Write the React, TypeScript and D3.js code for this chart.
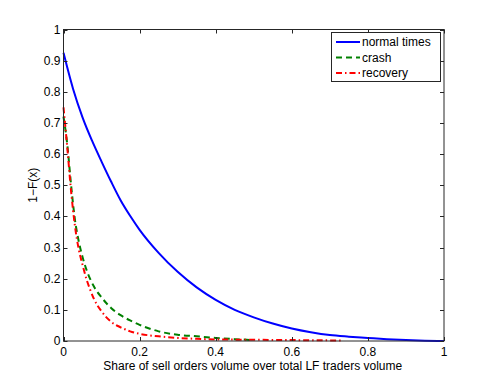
import React, { useEffect, useRef } from 'react';
import * as d3 from 'd3';

// values
const normalX = [0, 0.025, 0.05, 0.075, 0.1, 0.125, 0.15, 0.175, 0.2, 0.25, 0.3, 0.35, 0.4, 0.45, 0.5, 0.55, 0.6, 0.65, 0.7, 0.75, 0.8, 0.85, 0.9, 0.95, 1];
const normalY = [0.925, 0.81, 0.718, 0.643, 0.576, 0.512, 0.452, 0.402, 0.357, 0.283, 0.222, 0.172, 0.132, 0.1, 0.076, 0.056, 0.04, 0.028, 0.019, 0.014, 0.01, 0.006, 0.003, 0.001, 0];

const crashX = [0, 0.01, 0.02, 0.03, 0.04, 0.05, 0.06, 0.08, 0.1, 0.125, 0.15, 0.175, 0.2, 0.25, 0.3, 0.35, 0.4, 0.45, 0.5];
const crashY = [0.72, 0.63, 0.5, 0.39, 0.32, 0.27, 0.23, 0.175, 0.14, 0.106, 0.083, 0.066, 0.052, 0.031, 0.02, 0.015, 0.01, 0.006, 0.003];

const recoveryX = [0, 0.01, 0.02, 0.03, 0.04, 0.05, 0.06, 0.07, 0.08, 0.1, 0.125, 0.15, 0.175, 0.2, 0.25, 0.3, 0.35, 0.4, 0.5, 0.6, 0.7, 0.73];
const recoveryY = [0.75, 0.62, 0.48, 0.37, 0.295, 0.245, 0.2, 0.165, 0.135, 0.095, 0.062, 0.044, 0.031, 0.023, 0.015, 0.01, 0.007, 0.005, 0.004, 0.003, 0.002, 0.002];

const xTicks = [0, 0.2, 0.4, 0.6, 0.8, 1];
const yTicks = [0, 0.1, 0.2, 0.3, 0.4, 0.5, 0.6, 0.7, 0.8, 0.9, 1];

const series = [
  { name: 'normal times', xs: normalX, ys: normalY, color: '#0000ff', dash: null },
  { name: 'crash', xs: crashX, ys: crashY, color: '#008000', dash: '6,4' },
  { name: 'recovery', xs: recoveryX, ys: recoveryY, color: '#ff0000', dash: '6,3,1.5,3' },
];

const W = 491;
const H = 384;
const margin = { top: 29.5, right: 47, bottom: 43, left: 63.5 };
const FONT = '"Liberation Sans", Arial, Helvetica, sans-serif';

const App = () => {
  const svgRef = useRef(null);

  useEffect(() => {
    const svg = d3.select(svgRef.current);
    svg.selectAll('*').remove();

    const x = d3.scaleLinear().domain([0, 1]).range([margin.left, W - margin.right]);
    const y = d3.scaleLinear().domain([0, 1]).range([H - margin.bottom, margin.top]);

    const g = svg.append('g');

    // curves
    const line = d3.line<[number, number]>()
      .x(d => x(d[0]))
      .y(d => y(d[1]))
      .curve(d3.curveMonotoneX);

    series.forEach(s => {
      const pts = s.xs.map((v, i) => [v, s.ys[i]] as [number, number]);
      g.append('path')
        .attr('d', line(pts))
        .attr('fill', 'none')
        .attr('stroke', s.color)
        .attr('stroke-width', 2)
        .attr('stroke-dasharray', s.dash);
    });

    // box axes with inward ticks
    const axisColor = '#262626';
    const tick = 4;
    const left = x(0), right = x(1), top = y(1), bottom = y(0);

    g.append('rect')
      .attr('x', left).attr('y', top)
      .attr('width', right - left).attr('height', bottom - top)
      .attr('fill', 'none').attr('stroke', axisColor).attr('stroke-width', 1);

    xTicks.forEach(t => {
      const px = Math.round(x(t)) + 0.5;
      g.append('line').attr('x1', px).attr('x2', px).attr('y1', bottom).attr('y2', bottom - tick).attr('stroke', axisColor);
      g.append('line').attr('x1', px).attr('x2', px).attr('y1', top).attr('y2', top + tick).attr('stroke', axisColor);
      g.append('text')
        .attr('x', x(t)).attr('y', bottom + 15)
        .attr('text-anchor', 'middle')
        .attr('font-family', FONT).attr('font-size', 12).attr('fill', '#000')
        .text(d3.format('~g')(t));
    });

    yTicks.forEach(t => {
      const py = Math.round(y(t)) + 0.5;
      g.append('line').attr('x1', left).attr('x2', left + tick).attr('y1', py).attr('y2', py).attr('stroke', axisColor);
      g.append('line').attr('x1', right).attr('x2', right - tick).attr('y1', py).attr('y2', py).attr('stroke', axisColor);
      g.append('text')
        .attr('x', left - 3).attr('y', y(t) + 4)
        .attr('text-anchor', 'end')
        .attr('font-family', FONT).attr('font-size', 12).attr('fill', '#000')
        .text(d3.format('~g')(t));
    });

    // axis labels
    g.append('text')
      .attr('x', (left + right) / 2 - 1).attr('y', 370)
      .attr('text-anchor', 'middle')
      .attr('font-family', FONT).attr('font-size', 12).attr('fill', '#000')
      .text('Share of sell orders volume over total LF traders volume');

    g.append('text')
      .attr('transform', `translate(37,${(top + bottom) / 2}) rotate(-90)`)
      .attr('text-anchor', 'middle')
      .attr('font-family', FONT).attr('font-size', 12).attr('fill', '#000')
      .text('1\u2212F(x)');

    // legend
    const lg = g.append('g');
    lg.append('rect')
      .attr('x', 331.5).attr('y', 32.5)
      .attr('width', 109).attr('height', 49)
      .attr('fill', '#fff').attr('stroke', axisColor).attr('stroke-width', 1);

    series.forEach((s, i) => {
      const cy = 42 + i * 15.5;
      lg.append('line')
        .attr('x1', 336).attr('x2', 360)
        .attr('y1', cy).attr('y2', cy)
        .attr('stroke', s.color).attr('stroke-width', 2)
        .attr('stroke-dasharray', s.dash);
      lg.append('text')
        .attr('x', 362).attr('y', cy + 4)
        .attr('font-family', FONT).attr('font-size', 12).attr('fill', '#000')
        .text(s.name);
    });
  }, []);

  return (
    <svg
      ref={svgRef}
      width={W}
      height={H}
      style={{ position: 'absolute', left: 0, top: 0, background: '#fff' }}
    />
  );
};

export default App;
